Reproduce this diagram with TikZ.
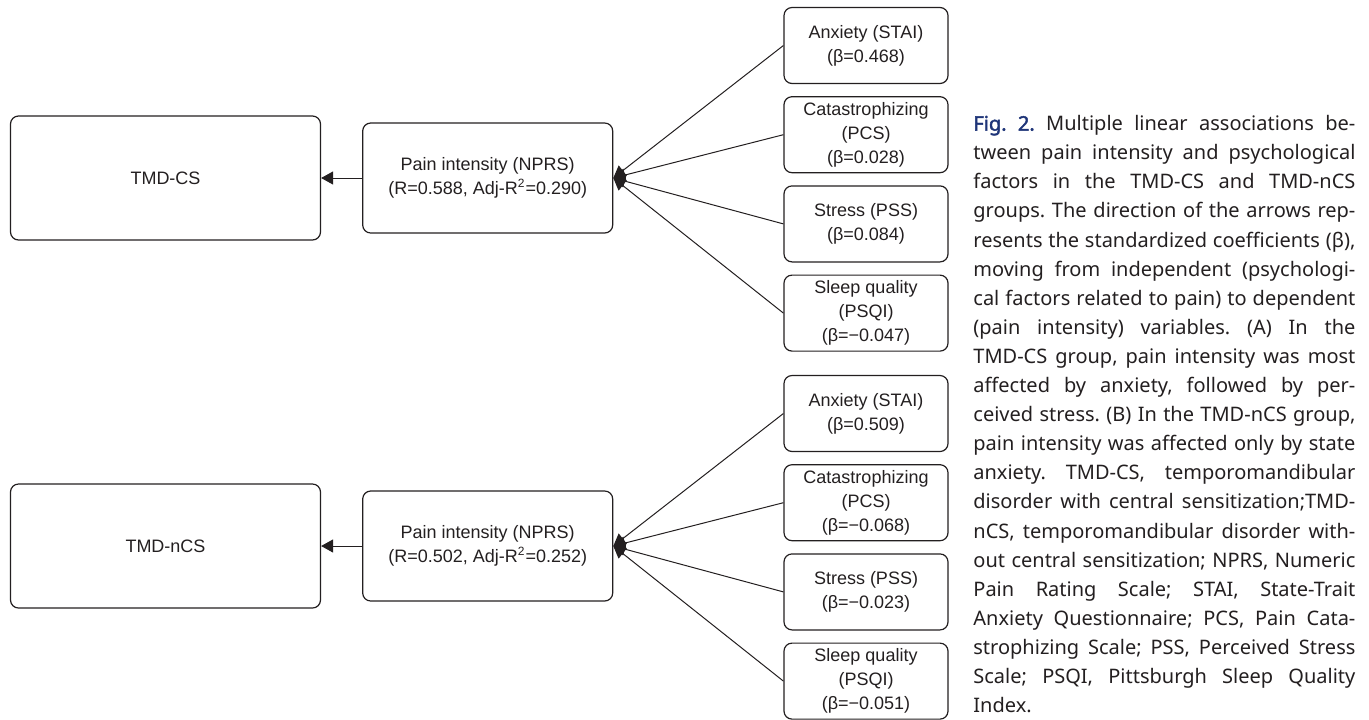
\documentclass[tikz,border=0pt]{standalone}
\usepackage{fontspec}
\setmainfont{Liberation Sans}
\newfontfamily\capfont{Noto Sans}
\newfontfamily\figfont{Noto Sans}[FakeBold=2]
\usetikzlibrary{positioning,arrows.meta}

\definecolor{figblue}{RGB}{30,52,120}
\definecolor{ink}{RGB}{35,31,32}
\newcommand{\capline}[1]{\makebox[191pt][s]{#1}}

\tikzset{
    box/.style={draw=ink, rounded corners=4pt, line width=0.6pt, inner sep=0pt,
        align=center, text=ink, font=\fontsize{9}{12}\selectfont},
    group/.style={box, minimum width=155pt, minimum height=62pt},
    outcome/.style={box, minimum width=125pt, minimum height=55pt},
    factor/.style={box, minimum width=82pt, minimum height=38pt},
    link/.style={draw=ink, line width=0.5pt, -{Triangle[length=6pt,width=6.5pt]}},
}

\begin{document}
\frenchspacing
\begin{tikzpicture}[x=0.5pt,y=-0.5pt]
    \useasboundingbox (0,0) rectangle (1369,719);

    % (A) TMD-CS
    \node[group] (csA) at (165.5,178) {TMD-CS};
    \node[outcome, right=20.5pt of csA] (painA) {Pain intensity (NPRS)\\(R=0.588, Adj-R\textsuperscript{2}=0.290)};
    \node[factor] (staiA) at (866,45.5) {Anxiety (STAI)\\(β=0.468)};
    \node[factor, below=6pt of staiA] (pcsA) {Catastrophizing\\(PCS)\\(β=0.028)};
    \node[factor, below=6pt of pcsA] (pssA) {Stress (PSS)\\(β=0.084)};
    \node[factor, below=6pt of pssA] (psqiA) {Sleep quality\\(PSQI)\\(β=−0.047)};
    \draw[link] (painA) -- (csA);
    \draw[link] (staiA.west) -- (painA.east);
    \draw[link] (pcsA.west) -- (painA.east);
    \draw[link] (pssA.west) -- (painA.east);
    \draw[link] (psqiA.west) -- (painA.east);

    % (B) TMD-nCS
    \node[group] (csB) at (165.5,546) {TMD-nCS};
    \node[outcome, right=20.5pt of csB] (painB) {Pain intensity (NPRS)\\(R=0.502, Adj-R\textsuperscript{2}=0.252)};
    \node[factor] (staiB) at (866,413.5) {Anxiety (STAI)\\(β=0.509)};
    \node[factor, below=6pt of staiB] (pcsB) {Catastrophizing\\(PCS)\\(β=−0.068)};
    \node[factor, below=6pt of pcsB] (pssB) {Stress (PSS)\\(β=−0.023)};
    \node[factor, below=6pt of pssB] (psqiB) {Sleep quality\\(PSQI)\\(β=−0.051)};
    \draw[link] (painB) -- (csB);
    \draw[link] (staiB.west) -- (painB.east);
    \draw[link] (pcsB.west) -- (painB.east);
    \draw[link] (pssB.west) -- (painB.east);
    \draw[link] (psqiB.west) -- (painB.east);

    % caption
    \node[anchor=north west, inner sep=0pt, align=left, text=ink,
        font=\capfont\fontsize{10}{14.55}\selectfont] (caption) at (973,115) {%
        \capline{\textcolor{figblue}{\figfont Fig. 2.} Multiple linear associations be-}\\
        \capline{tween pain intensity and psychological}\\
        \capline{factors in the TMD-CS and TMD-nCS}\\
        \capline{groups. The direction of the arrows rep-}\\
        \capline{resents the standardized coefficients (β),}\\
        \capline{moving from independent (psychologi-}\\
        \capline{cal factors related to pain) to dependent}\\
        \capline{(pain intensity) variables. (A) In the}\\
        \capline{TMD-CS group, pain intensity was most}\\
        \capline{affected by anxiety, followed by per-}\\
        \capline{ceived stress. (B) In the TMD-nCS group,}\\
        \capline{pain intensity was affected only by state}\\
        \capline{anxiety. TMD-CS, temporomandibular}\\
        \capline{disorder with central sensitization;TMD-}\\
        \capline{nCS, temporomandibular disorder with-}\\
        \capline{out central sensitization; NPRS, Numeric}\\
        \capline{Pain Rating Scale; STAI, State-Trait}\\
        \capline{Anxiety Questionnaire; PCS, Pain Cata-}\\
        \capline{strophizing Scale; PSS, Perceived Stress}\\
        \capline{Scale; PSQI, Pittsburgh Sleep Quality}\\
        Index.};
\end{tikzpicture}
\end{document}
